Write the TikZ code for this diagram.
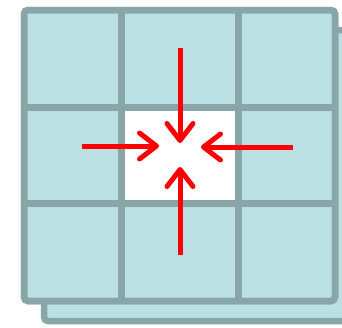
\documentclass[tikz,border=0pt]{standalone}
\definecolor{cellfill}{RGB}{186,224,228}
\definecolor{gridline}{RGB}{136,166,168}
\definecolor{pushred}{RGB}{255,0,0}
\usetikzlibrary{arrows.meta}
\tikzset{
  sheet/.style={draw=gridline, fill=cellfill, line width=6.5pt,
    rounded corners=4pt},
  gridrule/.style={draw=gridline, line width=7pt},
  pusharrow/.style={-{Straight Barb[length=17pt, width=26pt, round]},
    line width=5pt, color=pushred},
}

\begin{document}
\begin{tikzpicture}[x=1pt, y=-1pt]
\useasboundingbox (0,0) rectangle (342,327);

% back sheet
\draw[sheet] (44,30) rectangle (355,321);
% front sheet
\draw[sheet] (24,10) rectangle (335,301);
% free centre cell
\fill[white] (121,107) rectangle (238,203.5);
\foreach \x in {121,238}
  \draw[gridrule] (\x,10) -- (\x,301);
\foreach \y in {107,203.5}
  \draw[gridrule] (24,\y) -- (335,\y);
\draw[draw=gridline, line width=6.5pt, rounded corners=4pt] (24,10) rectangle (335,301);

% arrows into the centre
\coordinate (topstart) at (180,48);
\coordinate (toptip) at (180,143);
\coordinate (leftstart) at (82,146);
\coordinate (lefttip) at (159,146);
\coordinate (rightstart) at (293,147);
\coordinate (righttip) at (201,147);
\coordinate (botstart) at (180,255);
\coordinate (bottip) at (180,167);
\draw[pusharrow] (topstart) -- (toptip);
\draw[pusharrow] (leftstart) -- (lefttip);
\draw[pusharrow] (rightstart) -- (righttip);
\draw[pusharrow] (botstart) -- (bottip);
\end{tikzpicture}
\end{document}
